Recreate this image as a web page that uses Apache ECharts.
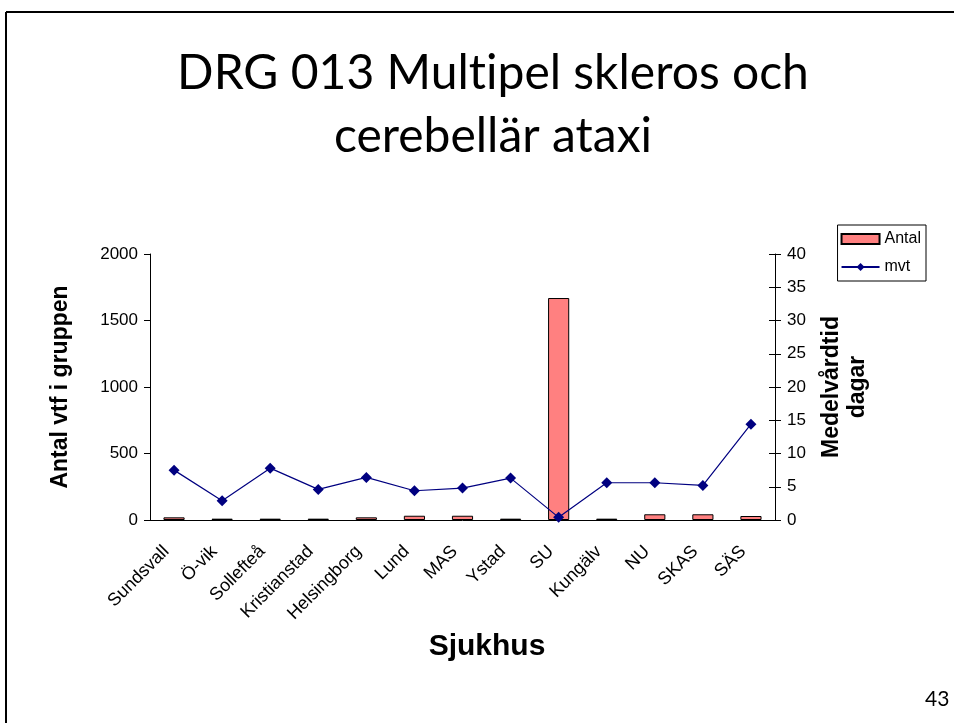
<!DOCTYPE html>
<html><head><meta charset="utf-8">
<script src="https://cdn.jsdelivr.net/npm/echarts@6/dist/echarts.min.js"></script>
<style>html,body{margin:0;padding:0;background:#fff}#c{width:954px;height:723px}</style>
</head><body><div id="c"></div>
<script>
var categories = ['Sundsvall','Ö-vik','Sollefteå','Kristianstad','Helsingborg','Lund','MAS','Ystad','SU','Kungälv','NU','SKAS','SÄS'];
var antal = [20, 10, 10, 10, 20, 32, 32, 10, 1669, 10, 43, 43, 30];
var mvt = [7.5, 2.9, 7.8, 4.6, 6.4, 4.4, 4.8, 6.3, 0.4, 5.6, 5.6, 5.2, 14.4];
var leftTicks = [0, 500, 1000, 1500, 2000];
var rightTicks = [0, 5, 10, 15, 20, 25, 30, 35, 40];

var chart = echarts.init(document.getElementById('c'));
var ax = 'Liberation Sans, Arial, sans-serif';
chart.setOption({
  animation: false,
  backgroundColor: '#fff',
  title: {
    text: 'DRG 013 Mult\u200Cipel skleros och\ncerebellär ataxi',
    left: 488, textAlign: 'center', top: 37,
    textStyle: {fontFamily: 'Lato, Open Sans, sans-serif', fontWeight: 'normal', fontSize: 48, lineHeight: 63, color: '#000'}
  },
  graphic: [
    {type: 'line', shape: {x1: 6, y1: 12, x2: 954, y2: 12}, style: {stroke: '#000', lineWidth: 2}},
    {type: 'line', shape: {x1: 6, y1: 12, x2: 6, y2: 723}, style: {stroke: '#000', lineWidth: 2}},
    {type: 'text', left: 925, top: 689, style: {text: '43', font: '21px Lato, Open Sans, sans-serif', fill: '#000'}},
    {type: 'text', x: 487, y: 647, style: {text: 'Sjukhus', font: 'bold 30px ' + ax, fill: '#000', align: 'center', verticalAlign: 'middle'}}
  ],
  legend: {
    right: 28, top: 225, orient: 'vertical', itemGap: 12,
    borderColor: '#000', borderWidth: 1, padding: [6, 5, 6, 3],
    itemWidth: 38, itemHeight: 10,
    textStyle: {fontFamily: ax, fontSize: 16, color: '#000'},
    data: [{name: 'Antal', icon: 'rect'}, {name: 'mvt'}]
  },
  grid: {left: 150, right: 179, top: 254, bottom: 203},
  xAxis: {
    type: 'category', data: categories,
    axisLine: {lineStyle: {color: '#000'}},
    axisTick: {alignWithLabel: false, length: 6, lineStyle: {color: '#000'}},
    axisLabel: {rotate: 45, fontFamily: ax, fontSize: 18, color: '#000', margin: 21, padding: [0, 11, 0, 0], interval: 0}
  },
  yAxis: [
    {
      type: 'value', min: 0, max: 2000, interval: 500,
      name: 'Antal vtf i gruppen', nameLocation: 'middle', nameGap: 78, nameRotate: 90,
      nameTextStyle: {fontFamily: ax, fontWeight: 'bold', fontSize: 23, color: '#000'},
      axisLine: {show: true, lineStyle: {color: '#000'}},
      axisTick: {show: true, length: 6, lineStyle: {color: '#000'}},
      axisLabel: {fontFamily: ax, fontSize: 17, color: '#000', margin: 12, formatter: function (v) { return String(v); }},
      splitLine: {show: false}
    },
    {
      type: 'value', min: 0, max: 40, interval: 5, position: 'right',
      name: 'Medelvårdtid\ndagar', nameLocation: 'middle', nameGap: 44, nameRotate: 90,
      nameTextStyle: {fontFamily: ax, fontWeight: 'bold', fontSize: 23, color: '#000', lineHeight: 26},
      axisLine: {show: true, lineStyle: {color: '#000'}},
      axisTick: {show: true, length: 6, lineStyle: {color: '#000'}},
      axisLabel: {fontFamily: ax, fontSize: 17, color: '#000', margin: 12},
      splitLine: {show: false}
    },
    {
      type: 'value', min: 0, max: 40, interval: 5, position: 'right',
      axisLine: {show: false},
      axisTick: {show: true, inside: true, length: 6, lineStyle: {color: '#000'}},
      axisLabel: {show: false},
      splitLine: {show: false}
    }
  ],
  series: [
    {
      name: 'Antal', type: 'bar', data: antal, barWidth: '44%', yAxisIndex: 0,
      itemStyle: {color: '#FF8080', borderColor: '#000', borderWidth: 1}
    },
    {
      name: 'mvt', type: 'line', data: mvt, yAxisIndex: 1,
      symbol: 'diamond', symbolSize: 11,
      lineStyle: {color: '#000080', width: 1.2},
      itemStyle: {color: '#000080'}
    }
  ]
});
</script></body></html>
